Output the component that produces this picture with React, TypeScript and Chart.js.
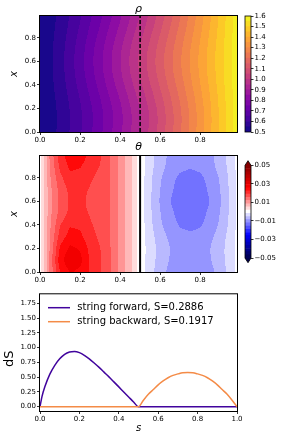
import React, { useEffect, useRef } from "react";
import { Chart, registerables } from "chart.js";

Chart.register(...registerables);

const FONT = "'DejaVu Sans', 'Liberation Sans', sans-serif";

/* ---------------- shared axis data ---------------- */
const fieldTicks = [0, 0.2, 0.4, 0.6, 0.8];
const fieldTickLabels = ["0.0", "0.2", "0.4", "0.6", "0.8"];
const fieldMax = 0.984;
const markerS = [0.5, 0.5];
const markerX = [0, 0.984];

/* ---------------- rho field (rows: x, columns: s) ---------------- */
const rhoS = [0, 0.1, 0.2, 0.3, 0.4, 0.5, 0.6, 0.7, 0.8, 0.9, 1.0];
const rhoX = [0, 0.1, 0.2, 0.3, 0.4, 0.5, 0.6, 0.7, 0.8, 0.9, 1.0];
const rhoGrid = [
  [0.5, 0.5612, 0.6438, 0.7378, 0.8406, 0.9521, 1.0705, 1.1954, 1.3259, 1.461, 1.6],
  [0.5, 0.5593, 0.6401, 0.7327, 0.8346, 0.9458, 1.0645, 1.1903, 1.3222, 1.4591, 1.6],
  [0.5, 0.5612, 0.6438, 0.7378, 0.8406, 0.9521, 1.0705, 1.1954, 1.3259, 1.461, 1.6],
  [0.5, 0.5663, 0.6535, 0.7511, 0.8563, 0.9686, 1.0862, 1.2087, 1.3356, 1.4661, 1.6],
  [0.5, 0.5727, 0.6655, 0.7677, 0.8757, 0.989, 1.1056, 1.2253, 1.3476, 1.4725, 1.6],
  [0.5, 0.5778, 0.6752, 0.781, 0.8914, 1.0055, 1.1213, 1.2386, 1.3573, 1.4776, 1.6],
  [0.5, 0.5797, 0.6789, 0.7861, 0.8974, 1.0118, 1.1273, 1.2437, 1.361, 1.4795, 1.6],
  [0.5, 0.5778, 0.6752, 0.781, 0.8914, 1.0055, 1.1213, 1.2386, 1.3573, 1.4776, 1.6],
  [0.5, 0.5727, 0.6655, 0.7677, 0.8757, 0.989, 1.1056, 1.2253, 1.3476, 1.4725, 1.6],
  [0.5, 0.5663, 0.6535, 0.7511, 0.8563, 0.9686, 1.0862, 1.2087, 1.3356, 1.4661, 1.6],
  [0.5, 0.5612, 0.6438, 0.7378, 0.8406, 0.9521, 1.0705, 1.1954, 1.3259, 1.461, 1.6],
];
const rhoLevels = [
  0.5, 0.55, 0.6, 0.65, 0.7, 0.75, 0.8, 0.85, 0.9, 0.95, 1.0, 1.05, 1.1, 1.15, 1.2,
  1.25, 1.3, 1.35, 1.4, 1.45, 1.5, 1.55, 1.6,
];
const rhoTicks = [0.5, 0.6, 0.7, 0.8, 0.9, 1.0, 1.1, 1.2, 1.3, 1.4, 1.5, 1.6];
const rhoTickLabels = ["0.5", "0.6", "0.7", "0.8", "0.9", "1.0", "1.1", "1.2", "1.3", "1.4", "1.5", "1.6"];

/* ---------------- theta field (rows: x, columns: s) ---------------- */
const thetaS = [
  0, 0.025, 0.05, 0.1, 0.15, 0.2, 0.25, 0.3, 0.35, 0.4, 0.45, 0.5,
  0.525, 0.55, 0.6, 0.65, 0.7, 0.75, 0.8, 0.85, 0.9, 0.95, 0.985,
];
const thetaX = [0, 0.1, 0.2, 0.3, 0.4, 0.5, 0.6, 0.7, 0.8, 0.9, 1.0];
const thetaGrid = [
  [0, 0.00641, 0.01293, 0.02255, 0.02622, 0.02514, 0.02193, 0.01945, 0.01572, 0.01117, 0.00641, 0, -0.00176, -0.00383, -0.00714, -0.00962, -0.01117, -0.01159, -0.01117, -0.00962, -0.00714, -0.00383, -0.00093],
  [0, 0.00641, 0.01293, 0.02431, 0.02814, 0.02669, 0.02193, 0.01945, 0.01572, 0.01117, 0.00641, 0, -0.00166, -0.00352, -0.00662, -0.0089, -0.01035, -0.01076, -0.01035, -0.0089, -0.00662, -0.00352, -0.00083],
  [0, 0.00631, 0.01262, 0.02286, 0.02659, 0.02545, 0.02141, 0.01903, 0.01572, 0.01117, 0.00641, 0, -0.00155, -0.00341, -0.00652, -0.00869, -0.01003, -0.01045, -0.01003, -0.00869, -0.00652, -0.00341, -0.00083],
  [0, 0.00621, 0.0121, 0.02048, 0.024, 0.02328, 0.02038, 0.01821, 0.01562, 0.01117, 0.00641, 0, -0.00176, -0.00372, -0.00703, -0.00941, -0.01097, -0.01138, -0.01097, -0.00941, -0.00703, -0.00372, -0.00093],
  [0, 0.0061, 0.01159, 0.01872, 0.02203, 0.02172, 0.01945, 0.01759, 0.01552, 0.01117, 0.00641, 0, -0.00194, -0.00426, -0.008, -0.01071, -0.01238, -0.0129, -0.01238, -0.01071, -0.008, -0.00426, -0.00103],
  [0, 0.006, 0.01117, 0.01686, 0.01997, 0.02007, 0.01872, 0.01697, 0.01552, 0.01117, 0.00641, 0, -0.00207, -0.00455, -0.00848, -0.01138, -0.01314, -0.01366, -0.01314, -0.01138, -0.00848, -0.00455, -0.00114],
  [0, 0.006, 0.01107, 0.01635, 0.01945, 0.01966, 0.01841, 0.01676, 0.01552, 0.01117, 0.00641, 0, -0.00217, -0.00476, -0.0089, -0.0119, -0.01366, -0.01428, -0.01366, -0.0119, -0.0089, -0.00476, -0.00114],
  [0, 0.006, 0.01117, 0.01686, 0.01997, 0.02007, 0.01872, 0.01697, 0.01552, 0.01117, 0.00641, 0, -0.00207, -0.00455, -0.00859, -0.01148, -0.01334, -0.01386, -0.01334, -0.01148, -0.00859, -0.00455, -0.00114],
  [0, 0.0061, 0.01169, 0.0181, 0.02141, 0.02121, 0.01966, 0.01769, 0.01552, 0.01117, 0.00641, 0, -0.00198, -0.00436, -0.00818, -0.01096, -0.01267, -0.0132, -0.01267, -0.01096, -0.00818, -0.00436, -0.00106],
  [0, 0.00631, 0.01241, 0.01976, 0.02317, 0.02266, 0.0211, 0.01883, 0.01562, 0.01117, 0.00641, 0, -0.00176, -0.00393, -0.00734, -0.00983, -0.01128, -0.01179, -0.01128, -0.00983, -0.00734, -0.00393, -0.00093],
  [0, 0.00641, 0.01283, 0.02079, 0.02431, 0.02359, 0.02172, 0.01935, 0.01572, 0.01117, 0.00641, 0, -0.00176, -0.00372, -0.00703, -0.00941, -0.01097, -0.01138, -0.01097, -0.00941, -0.00703, -0.00372, -0.00093],
];
const thetaLevelCount = 30;
const thetaMin = -0.05;
const thetaMax = 0.05;
const thetaExtend = 0.005;
const thetaTicks = [0.05, 0.03, 0.01, -0.01, -0.03, -0.05];
const thetaTickLabels = ["0.05", "0.03", "0.01", "\u22120.01", "\u22120.03", "\u22120.05"];

/* ---------------- dS curves ---------------- */
const sForward = [0, 0.01, 0.025, 0.05, 0.075, 0.1, 0.125, 0.15, 0.175, 0.2, 0.225, 0.25, 0.275, 0.3, 0.325, 0.35, 0.375, 0.4, 0.425, 0.45, 0.475, 0.5, 0.75, 1.0];
const dsForward = [0, 0.17, 0.34, 0.55, 0.7, 0.81, 0.885, 0.925, 0.935, 0.915, 0.87, 0.81, 0.74, 0.665, 0.585, 0.505, 0.42, 0.335, 0.25, 0.165, 0.08, 0, 0, 0];
const sBackward = [0, 0.25, 0.5, 0.525, 0.55, 0.575, 0.6, 0.625, 0.65, 0.675, 0.7, 0.725, 0.75, 0.775, 0.8, 0.825, 0.85, 0.875, 0.9, 0.925, 0.95, 0.975, 1.0];
const dsBackward = [0, 0, 0, 0.11, 0.21, 0.29, 0.37, 0.435, 0.49, 0.53, 0.555, 0.575, 0.58, 0.575, 0.555, 0.53, 0.49, 0.435, 0.37, 0.29, 0.21, 0.11, 0];
const forwardLabel = "string forward, S=0.2886";
const backwardLabel = "string backward, S=0.1917";
const dsAxisLabel = "dS";
const dsTicks = [0, 0.25, 0.5, 0.75, 1.0, 1.25, 1.5, 1.75];
const dsTickLabels = ["0.00", "0.25", "0.50", "0.75", "1.00", "1.25", "1.50", "1.75"];
const sTicks = [0, 0.2, 0.4, 0.6, 0.8, 1.0];
const sTickLabels = ["0.0", "0.2", "0.4", "0.6", "0.8", "1.0"];
const dsMin = -0.073;
const dsMax = 1.902;

/* ---------------- colormaps ---------------- */
const plasmaStops = ["#0d0887", "#41049d", "#6a00a8", "#8f0da4", "#b12a90", "#cc4778", "#e16462", "#f2844b", "#fca636", "#fcce25", "#f0f921"];
function hexRgb(h: string): number[] {
  return [parseInt(h.slice(1, 3), 16), parseInt(h.slice(3, 5), 16), parseInt(h.slice(5, 7), 16)];
}
const plasmaRgb = plasmaStops.map(hexRgb);
function plasma(t: number): number[] {
  const tt = Math.min(1, Math.max(0, t)) * (plasmaRgb.length - 1);
  const i = Math.min(plasmaRgb.length - 2, Math.floor(tt));
  const f = tt - i;
  return plasmaRgb[i].map((c, k) => c + (plasmaRgb[i + 1][k] - c) * f);
}
const seismicStops = [
  [0, 0, 0, 0.3],
  [0.25, 0, 0, 1],
  [0.5, 1, 1, 1],
  [0.75, 1, 0, 0],
  [1, 0.5, 0, 0],
];
function seismic(t: number): number[] {
  const tt = Math.min(1, Math.max(0, t));
  for (let i = 0; i < seismicStops.length - 1; i++) {
    const a = seismicStops[i], b = seismicStops[i + 1];
    if (tt <= b[0]) {
      const f = (tt - a[0]) / (b[0] - a[0]);
      return [1, 2, 3].map((k) => 255 * (a[k] + (b[k] - a[k]) * f));
    }
  }
  return [127.5, 0, 0];
}
function bandColors(levels: number[], cmap: (t: number) => number[]) {
  const lo = levels[0], hi = levels[levels.length - 1];
  const out: number[][] = [];
  for (let i = 0; i < levels.length - 1; i++) {
    const mid = (levels[i] + levels[i + 1]) / 2;
    out.push(cmap((mid - lo) / (hi - lo)));
  }
  return out;
}
const css = (c: number[]) => `rgb(${Math.round(c[0])},${Math.round(c[1])},${Math.round(c[2])})`;

/* ---------------- field sampling ---------------- */
function locate(nodes: number[], v: number): [number, number] {
  const n = nodes.length;
  if (v <= nodes[0]) return [0, 0];
  if (v >= nodes[n - 1]) return [n - 2, 1];
  let i = 0;
  while (i < n - 2 && v > nodes[i + 1]) i++;
  return [i, (v - nodes[i]) / (nodes[i + 1] - nodes[i])];
}
function rowAt(row: number[], sNodes: number[], s: number) {
  const [i, f] = locate(sNodes, s);
  return row[i] + (row[i + 1] - row[i]) * f;
}
function sampleField(grid: number[][], sNodes: number[], xNodes: number[], s: number, x: number) {
  const [j, g] = locate(xNodes, x);
  const n = grid.length;
  const r = (k: number) => rowAt(grid[Math.min(n - 1, Math.max(0, k))], sNodes, s);
  const p0 = r(j - 1), p1 = r(j), p2 = r(j + 1), p3 = r(j + 2);
  return 0.5 * (2 * p1 + (p2 - p0) * g + (2 * p0 - 5 * p1 + 4 * p2 - p3) * g * g + (3 * p1 - p0 - 3 * p2 + p3) * g * g * g);
}

type Field = {
  grid: number[][];
  sNodes: number[];
  xNodes: number[];
  levels: number[];
  colors: number[][];
  under: number[];
  over: number[];
};

function fieldPlugin(field: Field) {
  return {
    id: "field",
    beforeDatasetsDraw(chart: any) {
      const ca = chart.chartArea;
      const xs = chart.scales.x, ys = chart.scales.y;
      const w = Math.round(ca.right - ca.left), h = Math.round(ca.bottom - ca.top);
      const off = document.createElement("canvas");
      off.width = w;
      off.height = h;
      const octx = off.getContext("2d")!;
      const img = octx.createImageData(w, h);
      const L = field.levels;
      for (let py = 0; py < h; py++) {
        const xv = ys.getValueForPixel(ca.top + py + 0.5);
        for (let px = 0; px < w; px++) {
          const s = xs.getValueForPixel(ca.left + px + 0.5);
          const v = sampleField(field.grid, field.sNodes, field.xNodes, s, xv);
          let c: number[];
          if (v < L[0]) c = field.under;
          else if (v >= L[L.length - 1]) c = field.over;
          else {
            let k = 0;
            while (k < L.length - 2 && v >= L[k + 1]) k++;
            c = field.colors[k];
          }
          const o = (py * w + px) * 4;
          img.data[o] = c[0];
          img.data[o + 1] = c[1];
          img.data[o + 2] = c[2];
          img.data[o + 3] = 255;
        }
      }
      octx.putImageData(img, 0, 0);
      chart.ctx.drawImage(off, ca.left, ca.top);
    },
    afterDatasetsDraw(chart: any) {
      const ca = chart.chartArea;
      const ctx = chart.ctx;
      ctx.save();
      ctx.strokeStyle = "#000";
      ctx.lineWidth = 1;
      ctx.strokeRect(ca.left - 0.5, ca.top - 0.5, ca.right - ca.left + 1, ca.bottom - ca.top + 1);
      ctx.restore();
    },
  };
}

function tickSet(values: number[], labels: string[], padding = 1) {
  return {
    afterBuildTicks: (axis: any) => {
      axis.ticks = values.map((v) => ({ value: v }));
    },
    ticks: {
      callback: (_v: any, i: number) => labels[i],
      autoSkip: false,
      maxRotation: 0,
      minRotation: 0,
      color: "#000",
      font: { family: FONT, size: 7 },
      padding,
    },
  };
}
const tickGrid = { drawOnChartArea: false, drawTicks: true, tickLength: 3, tickColor: "#000", tickWidth: 0.8 };

function fieldChart(canvas: HTMLCanvasElement, title: string, field: Field, lineDash: number[], lineWidth: number) {
  const xTicks = tickSet(fieldTicks, fieldTickLabels, 1);
  const yTicks = tickSet(fieldTicks, fieldTickLabels, 1);
  return new Chart(canvas, {
    type: "scatter",
    data: {
      datasets: [
        {
          data: markerS.map((s, i) => ({ x: s, y: markerX[i] })),
          showLine: true,
          borderColor: "#000",
          borderWidth: lineWidth,
          borderDash: lineDash,
          pointRadius: 0,
        } as any,
      ],
    },
    options: {
      animation: false,
      responsive: false,
      devicePixelRatio: 1,
      events: [],
      layout: { padding: { left: 9, right: 3, top: 0, bottom: 0 } },
      plugins: {
        legend: { display: false },
        tooltip: { enabled: false },
        title: {
          display: true,
          text: title,
          color: "#000",
          fullSize: false,
          font: { family: FONT, size: 11, style: "italic", weight: "normal", lineHeight: 1 },
          padding: title === "\u03c1" ? { top: 4, bottom: 1 } : { top: 2, bottom: 3 },
        },
      },
      scales: {
        x: {
          type: "linear",
          min: 0,
          max: fieldMax,
          afterFit: (s: any) => {
            s.height = 13;
          },
          afterBuildTicks: xTicks.afterBuildTicks,
          ticks: xTicks.ticks,
          grid: tickGrid,
          border: { display: false },
        },
        y: {
          type: "linear",
          min: 0,
          max: fieldMax,
          afterFit: (s: any) => {
            s.width = 31;
          },
          afterBuildTicks: yTicks.afterBuildTicks,
          ticks: yTicks.ticks,
          grid: tickGrid,
          border: { display: false },
          title: {
            display: true,
            text: "x",
            color: "#000",
            padding: 0,
            font: { family: FONT, size: 10, style: "italic", weight: "normal", lineHeight: 1 },
          },
        },
      },
    } as any,
    plugins: [fieldPlugin(field) as any],
  });
}

function colorbarChart(
  canvas: HTMLCanvasElement,
  levels: number[],
  colors: number[][],
  min: number,
  max: number,
  ticks: number[],
  labels: string[],
  padding: any,
  ext: { under: number[]; over: number[] } | null
) {
  const t = tickSet(ticks, labels, 1);
  const outline = {
    id: "cbOutline",
    afterDatasetsDraw(chart: any) {
      const ca = chart.chartArea;
      const ys = chart.scales.y;
      const ctx = chart.ctx;
      const yTop = ys.getPixelForValue(levels[levels.length - 1]);
      const yBot = ys.getPixelForValue(levels[0]);
      const cx = (ca.left + ca.right) / 2;
      ctx.save();
      if (ext) {
        const yApexTop = ys.getPixelForValue(max);
        const yApexBot = ys.getPixelForValue(min);
        ctx.fillStyle = css(ext.over);
        ctx.beginPath();
        ctx.moveTo(ca.left, yTop);
        ctx.lineTo(ca.right, yTop);
        ctx.lineTo(cx, yApexTop);
        ctx.closePath();
        ctx.fill();
        ctx.fillStyle = css(ext.under);
        ctx.beginPath();
        ctx.moveTo(ca.left, yBot);
        ctx.lineTo(ca.right, yBot);
        ctx.lineTo(cx, yApexBot);
        ctx.closePath();
        ctx.fill();
        ctx.strokeStyle = "#000";
        ctx.lineWidth = 0.8;
        ctx.beginPath();
        ctx.moveTo(cx, yApexTop);
        ctx.lineTo(ca.right, yTop);
        ctx.lineTo(ca.right, yBot);
        ctx.lineTo(cx, yApexBot);
        ctx.lineTo(ca.left, yBot);
        ctx.lineTo(ca.left, yTop);
        ctx.closePath();
        ctx.stroke();
      } else {
        ctx.strokeStyle = "#000";
        ctx.lineWidth = 0.8;
        ctx.strokeRect(ca.left, yTop, ca.right - ca.left, yBot - yTop);
      }
      ctx.restore();
    },
  };
  return new Chart(canvas, {
    type: "bar",
    data: {
      labels: [""],
      datasets: colors.map((c, i) => ({
        data: [[levels[i], levels[i + 1]]],
        backgroundColor: css(c),
        borderWidth: 0,
        grouped: false,
        barPercentage: 1,
        categoryPercentage: 1,
      })) as any,
    },
    options: {
      animation: false,
      responsive: false,
      devicePixelRatio: 1,
      events: [],
      layout: { padding },
      plugins: { legend: { display: false }, tooltip: { enabled: false } },
      scales: {
        x: { display: false },
        y: {
          type: "linear",
          position: "right",
          min,
          max,
          afterFit: (s: any) => {
            s.width = 31;
          },
          afterBuildTicks: t.afterBuildTicks,
          ticks: t.ticks,
          grid: { drawOnChartArea: false, drawTicks: true, tickLength: 2.5, tickColor: "#000", tickWidth: 0.8 },
          border: { display: false },
        },
      },
    } as any,
    plugins: [outline as any],
  });
}

function lineChart(canvas: HTMLCanvasElement) {
  const xT = tickSet(sTicks, sTickLabels, 1);
  const yT = tickSet(dsTicks, dsTickLabels, 1);
  const fColor = css(plasma(0.1));
  const bColor = css(plasma(0.72));
  const legendPlugin = {
    id: "inLegend",
    afterDatasetsDraw(chart: any) {
      const ca = chart.chartArea;
      const ctx = chart.ctx;
      ctx.save();
      ctx.font = `10px ${FONT}`;
      ctx.textBaseline = "middle";
      ctx.textAlign = "left";
      chart.data.datasets
        .slice()
        .sort((a: any, b: any) => a.legendIndex - b.legendIndex)
        .forEach((ds: any, i: number) => {
          const y = ca.top + 13.4 + 14 * i;
          ctx.strokeStyle = ds.borderColor;
          ctx.lineWidth = 1.5;
          ctx.beginPath();
          ctx.moveTo(ca.left + 8, y);
          ctx.lineTo(ca.left + 30, y);
          ctx.stroke();
          ctx.fillStyle = "#000";
          ctx.fillText(ds.label, ca.left + 37.3, y);
        });
      ctx.lineWidth = 1;
      ctx.strokeStyle = "#000";
      ctx.strokeRect(ca.left - 0.5, ca.top - 0.5, ca.right - ca.left + 1, ca.bottom - ca.top + 1);
      // y-axis label (matplotlib places it slightly below the axes centre here)
      ctx.translate(10, (ca.top + ca.bottom) / 2 + 6);
      ctx.rotate(-Math.PI / 2);
      ctx.font = `13px ${FONT}`;
      ctx.textAlign = "center";
      ctx.textBaseline = "middle";
      ctx.fillStyle = "#000";
      ctx.fillText(dsAxisLabel, 0, 0);
      ctx.restore();
    },
  };
  return new Chart(canvas, {
    type: "line",
    data: {
      datasets: [
        {
          label: forwardLabel,
          legendIndex: 0,
          data: sForward.map((s, i) => ({ x: s, y: dsForward[i] })),
          borderColor: fColor,
          borderWidth: 1.5,
          pointRadius: 0,
          cubicInterpolationMode: "monotone",
          order: 2,
        },
        {
          label: backwardLabel,
          legendIndex: 1,
          data: sBackward.map((s, i) => ({ x: s, y: dsBackward[i] })),
          borderColor: bColor,
          borderWidth: 1.5,
          pointRadius: 0,
          cubicInterpolationMode: "monotone",
          order: 1,
        },
      ] as any,
    },
    options: {
      animation: false,
      responsive: false,
      devicePixelRatio: 1,
      events: [],
      layout: { padding: { left: 3.5, right: 45, top: 9.3, bottom: 0 } },
      plugins: { legend: { display: false }, tooltip: { enabled: false } },
      scales: {
        x: {
          type: "linear",
          min: 0,
          max: 1,
          afterFit: (s: any) => {
            s.height = 28;
          },
          afterBuildTicks: xT.afterBuildTicks,
          ticks: xT.ticks,
          grid: tickGrid,
          border: { display: false },
          title: {
            display: true,
            text: "s",
            color: "#000",
            padding: { top: 0, bottom: 6 },
            font: { family: FONT, size: 10, style: "italic", weight: "normal", lineHeight: 1 },
          },
        },
        y: {
          type: "linear",
          min: dsMin,
          max: dsMax,
          afterFit: (s: any) => {
            s.width = 36.5;
          },
          afterBuildTicks: yT.afterBuildTicks,
          ticks: yT.ticks,
          grid: tickGrid,
          border: { display: false },
        },
      },
    } as any,
    plugins: [legendPlugin as any],
  });
}

function linspace(a: number, b: number, n: number) {
  return Array.from({ length: n }, (_, i) => a + ((b - a) * i) / (n - 1));
}

export default function App() {
  const rhoRef = useRef<HTMLCanvasElement>(null);
  const rhoCbRef = useRef<HTMLCanvasElement>(null);
  const thRef = useRef<HTMLCanvasElement>(null);
  const thCbRef = useRef<HTMLCanvasElement>(null);
  const dsRef = useRef<HTMLCanvasElement>(null);

  useEffect(() => {
    const rhoColors = bandColors(rhoLevels, plasma);
    const thetaLevels = linspace(thetaMin, thetaMax, thetaLevelCount);
    const thetaColors = bandColors(thetaLevels, seismic);
    const under = seismic(0);
    const over = seismic(1);

    const charts = [
      fieldChart(
        rhoRef.current!,
        "\u03c1",
        {
          grid: rhoGrid,
          sNodes: rhoS,
          xNodes: rhoX,
          levels: rhoLevels,
          colors: rhoColors,
          under: rhoColors[0],
          over: rhoColors[rhoColors.length - 1],
        },
        [4, 2],
        1.5
      ),
      colorbarChart(rhoCbRef.current!, rhoLevels, rhoColors, 0.5, 1.6, rhoTicks, rhoTickLabels, { left: 5, right: 0, top: 16, bottom: 13 }, null),
      fieldChart(
        thRef.current!,
        "\u03b8",
        {
          grid: thetaGrid,
          sNodes: thetaS,
          xNodes: thetaX,
          levels: thetaLevels,
          colors: thetaColors,
          under,
          over,
        },
        [],
        2
      ),
      colorbarChart(
        thCbRef.current!,
        thetaLevels,
        thetaColors,
        thetaMin - thetaExtend,
        thetaMax + thetaExtend,
        thetaTicks,
        thetaTickLabels,
        { left: 5, right: 0, top: 20.7, bottom: 22.3 },
        { under, over }
      ),
      lineChart(dsRef.current!),
    ];
    return () => charts.forEach((c) => c.destroy());
  }, []);

  const abs = (left: number, top: number): React.CSSProperties => ({ position: "absolute", left, top });
  return (
    <div style={{ position: "absolute", left: 0, top: 0, width: 282, height: 439, background: "#fff" }}>
      <canvas ref={rhoRef} width={240} height={145} style={abs(0, 0)} />
      <canvas ref={rhoCbRef} width={42} height={145} style={abs(240, 0)} />
      <canvas ref={thRef} width={240} height={145} style={abs(0, 140)} />
      <canvas ref={thCbRef} width={42} height={145} style={abs(240, 140)} />
      <canvas ref={dsRef} width={282} height={154} style={abs(0, 285)} />
    </div>
  );
}
